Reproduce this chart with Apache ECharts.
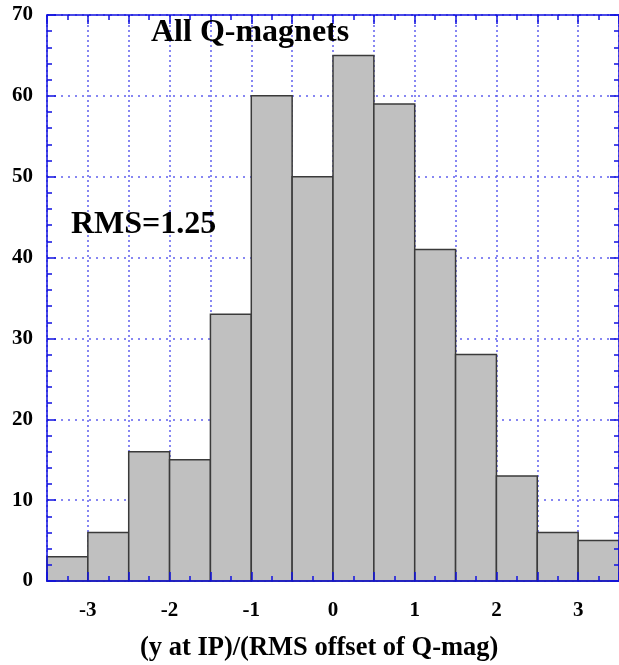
<!DOCTYPE html>
<html>
<head>
<meta charset="utf-8">
<script src="https://cdn.jsdelivr.net/npm/echarts@6/dist/echarts.min.js"></script>
<style>
  html, body { margin: 0; padding: 0; background: #fff; }
  #mainChart { width: 619px; height: 665px; }
</style>
</head>
<body>
<div id="mainChart"></div>
<script>
// histogram bins (left edge, width 0.5) and counts
var binStart = [-3.5, -3, -2.5, -2, -1.5, -1, -0.5, 0, 0.5, 1, 1.5, 2, 2.5, 3];
var binWidth = 0.5;
var counts = [3, 6, 16, 15, 33, 60, 50, 65, 59, 41, 28, 13, 6, 5];

var titleText = 'All Q-magnets';
var rmsText = 'RMS=1.25';
var xName = '(y at IP)/(RMS offset of Q-mag)';

var serif = '"Liberation Serif", "DejaVu Serif", serif';
var blue = '#1010e0';
var gridBlue = '#6060ee';

var histData = [];
for (var i = 0; i < binStart.length; i++) {
    histData.push([binStart[i], binStart[i] + binWidth, counts[i]]);
}

var gridPos = {left: 47, top: 15, right: -5, bottom: 84};

var myChart = echarts.init(document.getElementById('mainChart'));

var labelStyle = {color: '#000', fontFamily: serif, fontWeight: 'bold', fontSize: 21};
var edgeLine = {show: true, onZero: false, lineStyle: {color: blue, width: 1.5}};
var majorTick = {show: true, inside: true, length: 9, lineStyle: {color: blue, width: 1.5}};

myChart.setOption({
    animation: false,
    grid: [
        Object.assign({containLabel: false}, gridPos),
        Object.assign({containLabel: false}, gridPos)
    ],
    xAxis: [{
        // grid lines only
        gridIndex: 0, type: 'value', min: -3.5, max: 3.5, interval: 0.5,
        axisLine: {show: false, onZero: false}, axisTick: {show: false}, axisLabel: {show: false},
        splitLine: {show: true, lineStyle: {color: gridBlue, width: 1.5, type: [2, 3]}}
    }, {
        gridIndex: 1, type: 'value', position: 'bottom', min: -3.5, max: 3.5, interval: 0.5, z: 5,
        axisLine: edgeLine,
        axisTick: majorTick,
        minorTick: {show: true, splitNumber: 2, length: 5, lineStyle: {color: blue, width: 1.5}},
        axisLabel: Object.assign({
            margin: 19,
            showMinLabel: false, showMaxLabel: false,
            formatter: function (v) {
                return Math.abs(v - Math.round(v)) < 1e-6 ? String(Math.round(v)) : '';
            }
        }, labelStyle),
        splitLine: {show: false}
    }, {
        gridIndex: 1, type: 'value', position: 'top', min: -3.5, max: 3.5, interval: 0.5, z: 5,
        axisLine: edgeLine,
        axisTick: majorTick,
        minorTick: {show: true, splitNumber: 2, length: 5, lineStyle: {color: blue, width: 1.5}},
        axisLabel: {show: false},
        splitLine: {show: false}
    }],
    yAxis: [{
        gridIndex: 0, type: 'value', min: 0, max: 70, interval: 10,
        axisLine: {show: false, onZero: false}, axisTick: {show: false}, axisLabel: {show: false},
        splitLine: {show: true, lineStyle: {color: gridBlue, width: 1.5, type: [2, 5]}}
    }, {
        gridIndex: 1, type: 'value', position: 'left', min: 0, max: 70, interval: 10, z: 5,
        axisLine: edgeLine,
        axisTick: majorTick,
        minorTick: {show: true, splitNumber: 5, length: 5, lineStyle: {color: blue, width: 1.5}},
        axisLabel: Object.assign({margin: 14}, labelStyle),
        splitLine: {show: false}
    }, {
        gridIndex: 1, type: 'value', position: 'right', min: 0, max: 70, interval: 10, z: 5,
        axisLine: edgeLine,
        axisTick: majorTick,
        minorTick: {show: true, splitNumber: 5, length: 5, lineStyle: {color: blue, width: 1.5}},
        axisLabel: {show: false},
        splitLine: {show: false}
    }],
    series: [{
        type: 'custom',
        xAxisIndex: 0,
        yAxisIndex: 0,
        z: 2,
        data: histData,
        renderItem: function (params, api) {
            var p0 = api.coord([api.value(0), api.value(2)]);
            var p1 = api.coord([api.value(1), 0]);
            return {
                type: 'rect',
                shape: {x: p0[0], y: p0[1], width: p1[0] - p0[0], height: p1[1] - p0[1]},
                style: {fill: '#c0c0c0', stroke: '#3a3a3a', lineWidth: 1.5}
            };
        }
    }],
    graphic: [{
        type: 'text', left: 151, top: 17, z: 10,
        style: {text: titleText, fill: '#000', font: 'bold 32px ' + serif}
    }, {
        type: 'text', left: 71, top: 209, z: 10,
        style: {text: rmsText, fill: '#000', font: 'bold 32px ' + serif}
    }, {
        type: 'text', left: 140, top: 635, z: 10,
        style: {text: xName, fill: '#000', font: 'bold 26.5px ' + serif}
    }]
});
</script>
</body>
</html>
